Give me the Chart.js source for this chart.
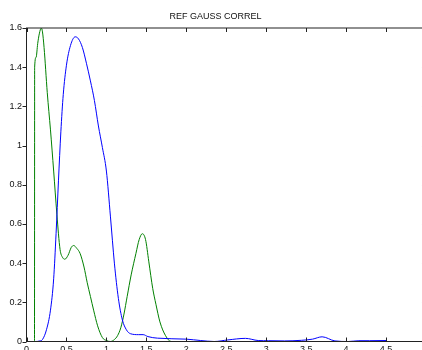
<!DOCTYPE html>
<html>
<head>
<meta charset="utf-8">
<script src="https://cdn.jsdelivr.net/npm/chart.js@4"></script>
<style>
  html, body { margin: 0; padding: 0; background: #fff; overflow: hidden; }
  #wrap { width: 431px; height: 356px; }
</style>
</head>
<body>
<div id="wrap"><canvas id="chart" width="431" height="356"></canvas></div>
<script>
const chartTitle = 'REF GAUSS CORREL';

// blue curve
const blueX = [0, 0.10, 0.17, 0.20, 0.25, 0.30, 0.34, 0.37, 0.40, 0.43, 0.46, 0.50, 0.55, 0.61, 0.65, 0.70, 0.75, 0.80, 0.85, 0.90, 0.95, 1.00, 1.05, 1.10, 1.15, 1.20, 1.25, 1.30, 1.40, 1.46, 1.52, 1.64, 2.00, 2.18, 2.35, 2.52, 2.74, 2.90, 3.03, 3.23, 3.44, 3.58, 3.70, 3.86, 4.03, 4.16, 4.29, 4.50];
const blueY = [0, 0, 0.003, 0.01, 0.06, 0.16, 0.32, 0.55, 0.82, 1.07, 1.26, 1.41, 1.51, 1.555, 1.545, 1.50, 1.42, 1.33, 1.23, 1.10, 0.99, 0.87, 0.64, 0.40, 0.22, 0.11, 0.06, 0.04, 0.035, 0.035, 0.025, 0.017, 0.012, 0.005, 0.0, 0.008, 0.016, 0.005, 0.004, 0.003, 0.006, 0.012, 0.024, 0.003, 0.0, 0.004, 0.004, 0.005];

// green curve
const greenX = [0, 0.100, 0.102, 0.12, 0.14, 0.16, 0.185, 0.20, 0.22, 0.26, 0.30, 0.34, 0.38, 0.42, 0.45, 0.48, 0.52, 0.56, 0.59, 0.63, 0.67, 0.72, 0.76, 0.80, 0.84, 0.89, 0.95, 1.00, 1.05, 1.10, 1.14, 1.18, 1.22, 1.26, 1.31, 1.37, 1.41, 1.45, 1.49, 1.53, 1.58, 1.62, 1.67, 1.74, 1.81, 2.00];
const greenY = [0, 0, 1.40, 1.45, 1.52, 1.57, 1.60, 1.58, 1.50, 1.27, 1.08, 0.87, 0.65, 0.47, 0.43, 0.42, 0.44, 0.48, 0.49, 0.475, 0.45, 0.38, 0.30, 0.23, 0.16, 0.08, 0.02, 0.005, 0.0, 0.01, 0.03, 0.07, 0.14, 0.23, 0.34, 0.45, 0.52, 0.55, 0.52, 0.41, 0.27, 0.19, 0.10, 0.03, 0.0, 0.0];

const xTickStep = 0.5;
const yTickStep = 0.2;

const toPoints = (xs, ys) => xs.map((x, i) => ({ x: x, y: ys[i] }));
const fmt = v => String(Number(v.toFixed(2)));

// matlab style box: ticks inside except on the left side
const boxTicks = {
  id: 'boxTicks',
  afterDraw(chart) {
    const ctx = chart.ctx;
    const a = chart.chartArea;
    const xs = chart.scales.x;
    const ys = chart.scales.y;
    const len = 4;
    ctx.save();
    ctx.strokeStyle = '#222';
    ctx.lineWidth = 1;
    ctx.strokeRect(a.left, a.top, a.right - a.left, a.bottom - a.top);
    ctx.beginPath();
    xs.ticks.forEach(t => {
      const px = Math.round(xs.getPixelForValue(t.value)) + 0.5;
      ctx.moveTo(px, a.bottom);
      ctx.lineTo(px, a.bottom - len);
      ctx.moveTo(px, a.top);
      ctx.lineTo(px, a.top + len);
    });
    ys.ticks.forEach(t => {
      const py = Math.round(ys.getPixelForValue(t.value)) + 0.5;
      ctx.moveTo(a.left, py);
      ctx.lineTo(a.left - len, py);
      ctx.moveTo(a.right, py);
      ctx.lineTo(a.right - len, py);
    });
    ctx.stroke();
    ctx.restore();
  }
};

const fontFamily = '"Liberation Sans", Arial, Helvetica, sans-serif';
const tickFont = { family: fontFamily, size: 9 };

new Chart(document.getElementById('chart'), {
  type: 'line',
  data: {
    datasets: [
      {
        label: 'blue',
        data: toPoints(blueX, blueY),
        borderColor: '#0000ff',
        borderWidth: 1,
        pointRadius: 0,
        fill: false,
        cubicInterpolationMode: 'monotone'
      },
      {
        label: 'green',
        data: toPoints(greenX, greenY),
        borderColor: '#008000',
        borderWidth: 1,
        pointRadius: 0,
        fill: false,
        cubicInterpolationMode: 'monotone'
      }
    ]
  },
  options: {
    responsive: false,
    animation: false,
    layout: { padding: 0 },
    plugins: {
      legend: { display: false },
      tooltip: { enabled: false },
      title: {
        display: true,
        text: chartTitle,
        color: '#111',
        font: { family: fontFamily, size: 9, weight: 'normal' },
        padding: { top: 11.6, bottom: 5.6 }
      }
    },
    scales: {
      x: {
        type: 'linear',
        min: 0,
        max: 5,
        grid: { display: false, drawTicks: false, tickLength: 0 },
        border: { display: false },
        ticks: { stepSize: xTickStep, color: '#111', font: tickFont, padding: 2.5, maxRotation: 0, callback: fmt },
        afterFit(scale) { scale.height = 14.5; }
      },
      y: {
        type: 'linear',
        min: 0,
        max: 1.6,
        grid: { display: false, drawTicks: false, tickLength: 0 },
        border: { display: false },
        ticks: { stepSize: yTickStep, color: '#111', font: tickFont, padding: 4.5, callback: fmt },
        afterFit(scale) { scale.width = 26.5; }
      }
    }
  },
  plugins: [boxTicks]
});
</script>
</body>
</html>
